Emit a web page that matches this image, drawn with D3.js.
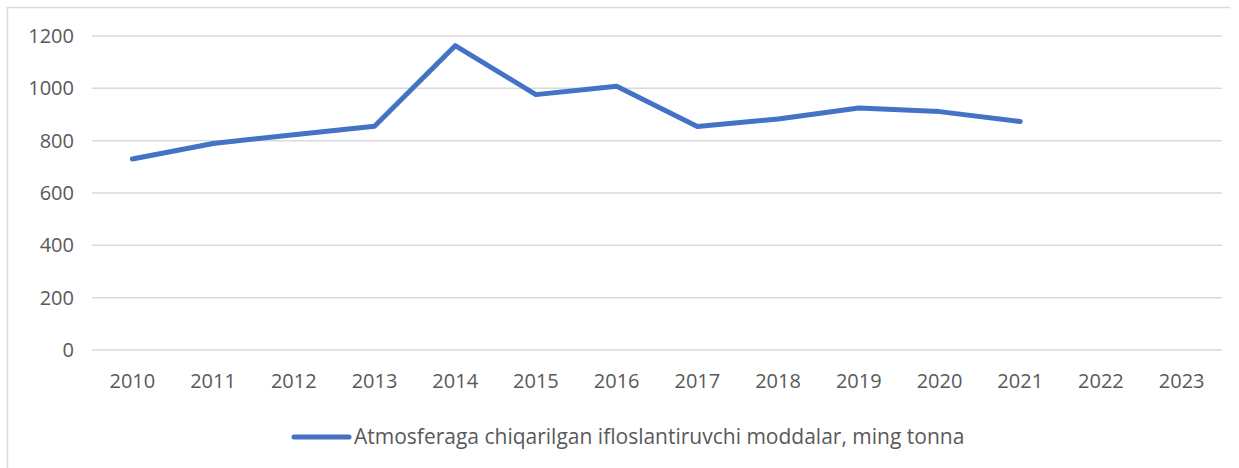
<!DOCTYPE html>
<html>
<head>
<meta charset="utf-8">
<script src="https://cdn.jsdelivr.net/npm/d3@7"></script>
<style>
    body { margin: 0; background: #fff; }
    svg { display: block; font-family: "Open Sans", sans-serif; }
    .grid line { stroke: #d9d9d9; stroke-width: 1.5; }
    .tick-label { fill: #595959; font-size: 20px; }
    .legend-label { fill: #595959; font-size: 21px; }
</style>
</head>
<body>
<script>
// years on the category axis
const years = ["2010", "2011", "2012", "2013", "2014", "2015", "2016",
    "2017", "2018", "2019", "2020", "2021", "2022", "2023"];
// pollutant emissions, thousand tonnes (no data for 2022, 2023)
const emissions = [730, 789, 823, 855, 1163, 976, 1008, 854, 883, 925, 911, 873, null, null];
const yTicks = [0, 200, 400, 600, 800, 1000, 1200];
const seriesName = "Atmosferaga chiqarilgan ifloslantiruvchi moddalar, ming tonna";

const width = 1239, height = 468;
const margin = { top: 36, right: 17, bottom: 118, left: 92 };

const svg = d3.select("body").append("svg")
    .attr("width", width)
    .attr("height", height);

// chart frame (only top and left edges are inside the picture)
svg.append("path")
    .attr("d", "M7.5,468 V7.5 H1230")
    .attr("fill", "none")
    .attr("stroke", "#d9d9d9")
    .attr("stroke-width", 1.5);

const x = d3.scaleBand()
    .domain(years)
    .range([margin.left, width - margin.right]);
const y = d3.scaleLinear()
    .domain([0, 1200])
    .range([height - margin.bottom, margin.top]);

const grid = svg.append("g").attr("class", "grid");
grid.selectAll("line")
    .data(yTicks)
    .enter().append("line")
    .attr("x1", margin.left)
    .attr("x2", width - margin.right)
    .attr("y1", d => y(d))
    .attr("y2", d => y(d));

svg.append("g")
    .selectAll("text")
    .data(yTicks)
    .enter().append("text")
    .attr("class", "tick-label")
    .attr("x", 74)
    .attr("y", d => y(d))
    .attr("dy", "0.35em")
    .attr("text-anchor", "end")
    .text(d => d);

svg.append("g")
    .selectAll("text")
    .data(years)
    .enter().append("text")
    .attr("class", "tick-label")
    .attr("x", d => x(d) + x.bandwidth() / 2)
    .attr("y", 381)
    .attr("dy", "0.35em")
    .attr("text-anchor", "middle")
    .text(d => d);

const line = d3.line()
    .defined(d => d.value !== null)
    .x(d => x(d.year) + x.bandwidth() / 2)
    .y(d => y(d.value));

svg.append("path")
    .datum(years.map((year, i) => ({ year, value: emissions[i] })))
    .attr("d", line)
    .attr("fill", "none")
    .attr("stroke", "#4472c4")
    .attr("stroke-width", 5)
    .attr("stroke-linejoin", "round")
    .attr("stroke-linecap", "round");

// legend
const legend = svg.append("g").attr("transform", "translate(0,437)");
legend.append("line")
    .attr("x1", 294)
    .attr("x2", 349)
    .attr("stroke", "#4472c4")
    .attr("stroke-width", 5)
    .attr("stroke-linecap", "round");
legend.append("text")
    .attr("class", "legend-label")
    .attr("x", 354)
    .attr("dy", "0.35em")
    .text(seriesName);
</script>
</body>
</html>
